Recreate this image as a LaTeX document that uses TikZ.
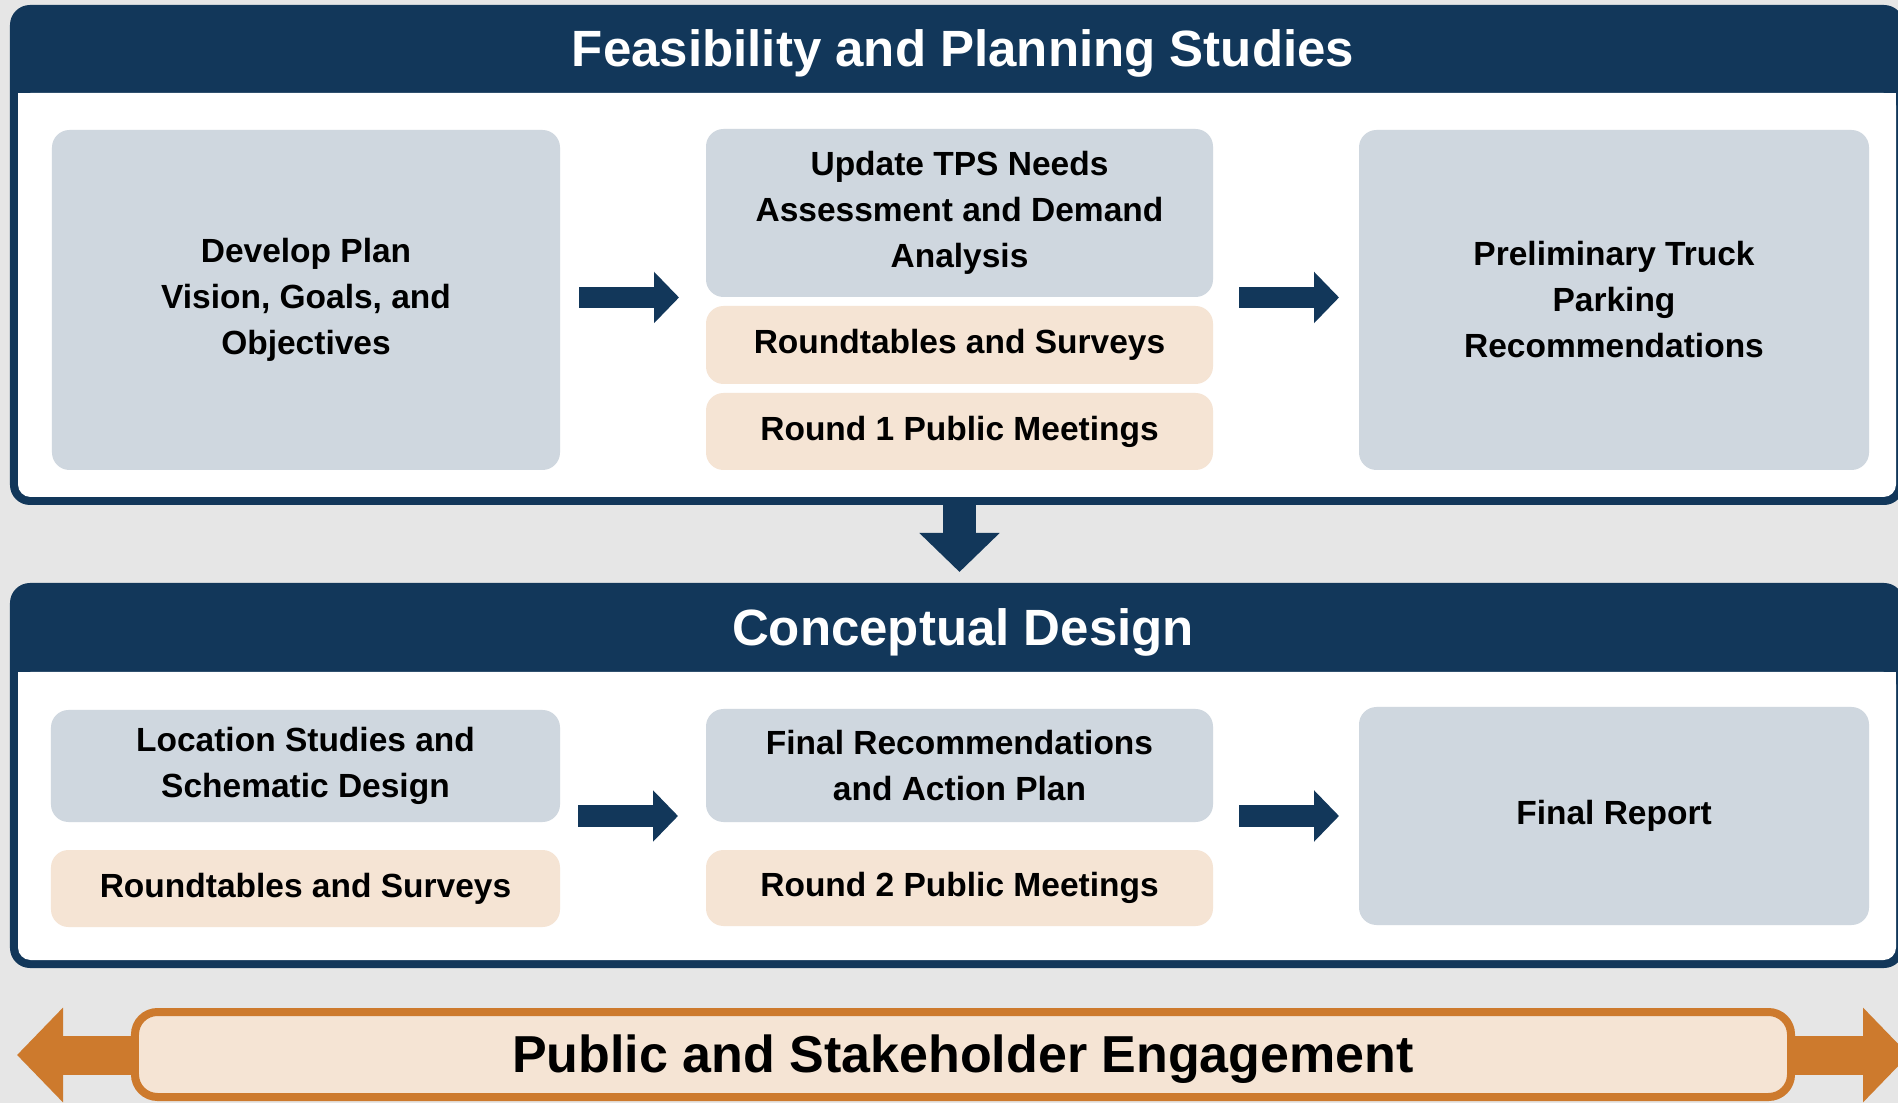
\documentclass[tikz,border=0pt]{standalone}
\usepackage{fontspec}
\setmainfont{Liberation Sans}
\usetikzlibrary{arrows.meta}
\definecolor{navy}{HTML}{12375A}
\definecolor{boxgray}{HTML}{CFD7DF}
\definecolor{peach}{HTML}{F5E4D4}
\definecolor{orng}{HTML}{CD7A2D}
\definecolor{bggray}{HTML}{E6E6E6}
\begin{document}
\begin{tikzpicture}[x=0.4pt,y=-0.4pt,
  gbox/.style={fill=boxgray, rounded corners=7pt, inner sep=0pt, outer sep=0pt, align=center,
    font=\fontsize{13.4pt}{18.4pt}\selectfont\bfseries},
  pbox/.style={gbox, fill=peach},
  panel/.style={fill=navy, rounded corners=8pt, inner sep=0pt, outer sep=0pt},
  ptitle/.style={text=white, font=\fontsize{20.4pt}{24pt}\selectfont\bfseries},
  navyarrow/.style={draw=navy, line width=8.4pt, -{Triangle[length=10pt,width=20pt]}},
  downarrow/.style={draw=navy, line width=13.2pt, -{Triangle[length=15.6pt,width=31.2pt]}},
  orngarrow/.style={draw=orng, line width=15.6pt, -{Triangle[length=18.4pt,width=36.8pt]}},
  engbar/.style={draw=orng, fill=peach, line width=3.2pt, rounded corners=9pt, inner sep=0pt},
  engtext/.style={inner sep=0pt, font=\fontsize{20.8pt}{24pt}\selectfont\bfseries}
]
\fill[bggray] (0,0) rectangle (1898,1103);
\useasboundingbox (0,0) rectangle (1898,1103);
\clip (0,0) rectangle (1898,1103);

% ---- top panel
\node[panel, minimum width=757.6pt, minimum height=200pt] (p1) at (957,255) {};
\fill[white, rounded corners=5pt] (18,93) rectangle (1896,497);
\fill[white] (18,93) rectangle (1896,130);
\node[ptitle] (t1) at (963,53) {Feasibility and Planning Studies};

\node[gbox, minimum width=203.2pt, minimum height=136pt] (b1) at (306,300)
  {Develop Plan\\Vision, Goals, and\\Objectives};
\node[gbox, minimum width=202.8pt, minimum height=67.2pt] (b2) at (959.5,213)
  {Update TPS Needs\\Assessment and Demand\\Analysis};
\node[pbox, minimum width=202.8pt, minimum height=31.2pt] (rt1) at (959.5,345)
  {Roundtables and Surveys};
\node[pbox, minimum width=202.8pt, minimum height=30.8pt] (r1) at (959.5,431.5)
  {Round 1 Public Meetings};
\node[gbox, minimum width=204pt, minimum height=136pt] (b3) at (1614,300)
  {Preliminary Truck\\Parking\\Recommendations};

\draw[navyarrow] ([xshift=7.6pt,yshift=1pt]b1.east) -- ([xshift=-10.8pt,yshift=1pt]b1.east -| b2.west);
\draw[navyarrow] ([xshift=10.4pt,yshift=1pt]b1.east -| b2.east) -- ([xshift=-8pt,yshift=1pt]b3.west);

% ---- down arrow
\coordinate (da) at (959.5,572);
\draw[downarrow] (da |- p1.south) -- (da);

% ---- bottom panel
\node[panel, minimum width=757.6pt, minimum height=154pt] (p2) at (957,775.5) {};
\fill[white, rounded corners=5pt] (18,672) rectangle (1896,960);
\fill[white] (18,672) rectangle (1896,710);
\node[ptitle] (t2) at (963,632) {Conceptual Design};

\node[gbox, minimum width=203.6pt, minimum height=44.8pt] (c1) at (305.5,766)
  {Location Studies and\\Schematic Design};
\node[pbox, minimum width=203.6pt, minimum height=30.8pt] (rt2) at (305.5,888.5)
  {Roundtables and Surveys};
\node[gbox, minimum width=202.8pt, minimum height=45.2pt] (c2) at (959.5,765.5)
  {Final Recommendations\\and Action Plan};
\node[pbox, minimum width=202.8pt, minimum height=30.4pt] (r2) at (959.5,888)
  {Round 2 Public Meetings};
\node[gbox, minimum width=204pt, minimum height=87.2pt] (c3) at (1614,816)
  {Final Report};

\draw[navyarrow] ([xshift=7.2pt]c1.east |- c3.west) -- ([xshift=-11.2pt]c2.west |- c3.west);
\draw[navyarrow] ([xshift=10.4pt]c2.east |- c3.west) -- ([xshift=-8pt]c3.west);

% ---- engagement bar
\node[engbar, minimum width=662.4pt, minimum height=34pt] (eng) at (963,1054.5) {};
\node[engtext] (engt) at ([yshift=-2pt]eng.center) {Public and Stakeholder Engagement};
\coordinate (lt) at (17,1055);
\coordinate (rt) at (1909,1055);
\draw[orngarrow] (eng.west |- lt) -- (lt);
\draw[orngarrow] (eng.east |- rt) -- (rt);
\end{tikzpicture}
\end{document}
